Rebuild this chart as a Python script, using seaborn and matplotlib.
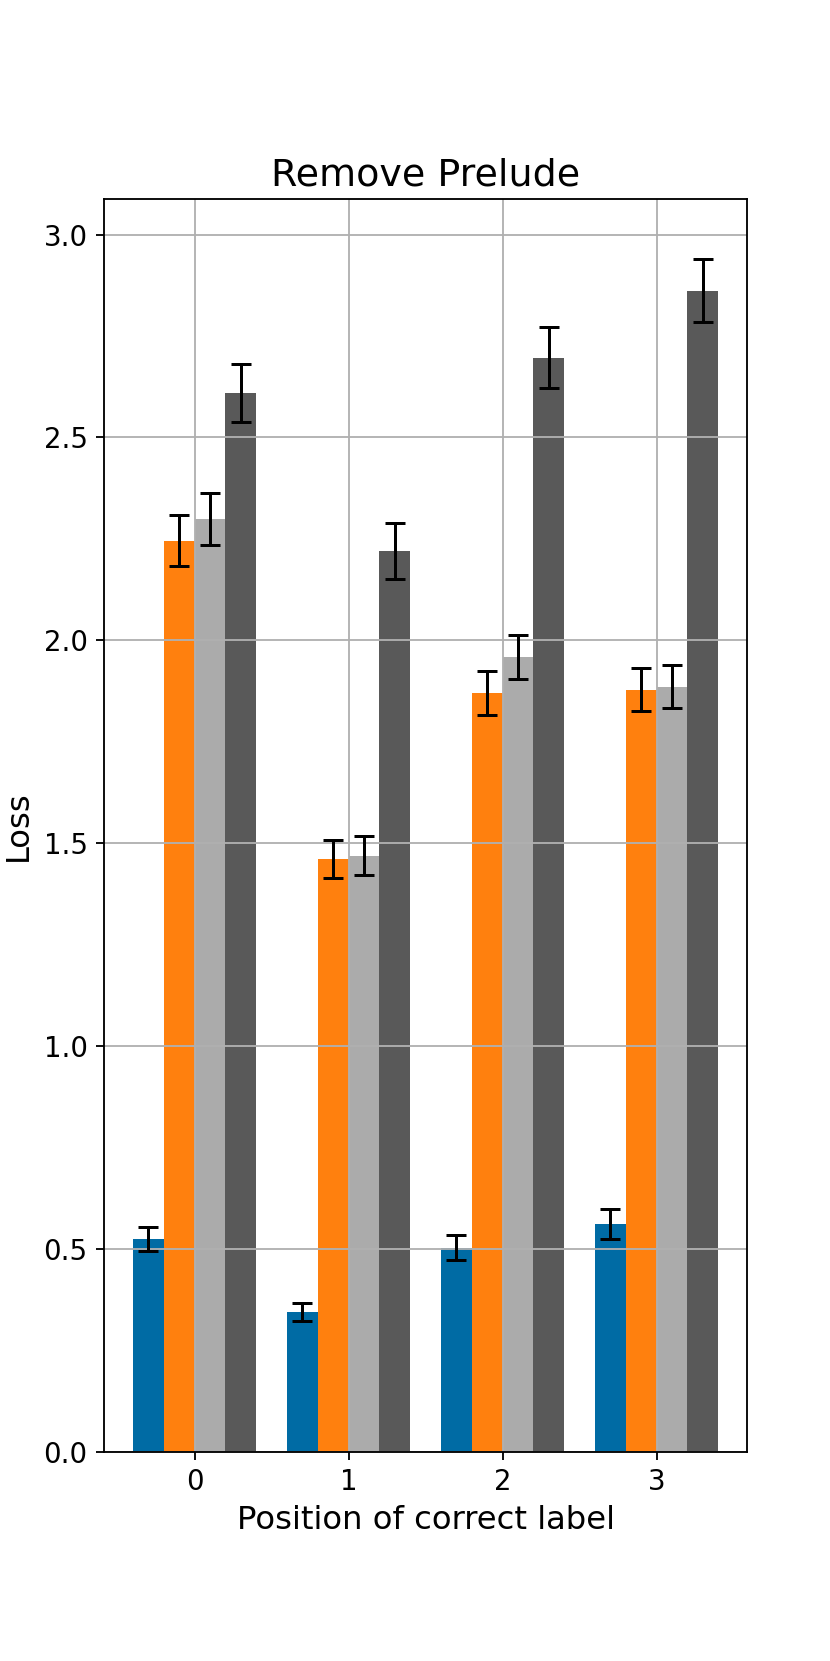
import pandas as pd
import seaborn as sns
import matplotlib.pyplot as plt

# values
positions = ['0', '1', '2', '3']
series_names = ['A', 'B', 'C', 'D']
loss_a = [0.524, 0.344, 0.503, 0.561]
loss_b = [2.246, 1.461, 1.870, 1.878]
loss_c = [2.298, 1.469, 1.959, 1.886]
loss_d = [2.609, 2.220, 2.697, 2.862]
err_a = [0.030, 0.023, 0.030, 0.037]
err_b = [0.063, 0.047, 0.055, 0.053]
err_c = [0.064, 0.048, 0.054, 0.054]
err_d = [0.072, 0.070, 0.076, 0.078]

colors = ['#006BA4', '#FF800E', '#ABABAB', '#595959']

rows = []
for name, vals, errs in zip(series_names,
                            [loss_a, loss_b, loss_c, loss_d],
                            [err_a, err_b, err_c, err_d]):
    for pos, v, e in zip(positions, vals, errs):
        rows.append({'position': pos, 'series': name, 'loss': v, 'err': e})
data = pd.DataFrame(rows)

plt.rcParams['font.family'] = 'DejaVu Sans'
fig, ax = plt.subplots(figsize=(5, 10), dpi=166.1)
fig.subplots_adjust(left=0.125, right=0.9, top=0.88, bottom=0.126)

sns.barplot(data=data, x='position', y='loss', hue='series',
            order=positions, hue_order=series_names, palette=colors,
            saturation=1, errorbar=None, linewidth=0, legend=False, ax=ax)

# error bars at the centre of each bar (seaborn draws bars hue by hue)
for i, name in enumerate(series_names):
    sub = data[data['series'] == name].set_index('position').loc[positions]
    bars = ax.containers[i]
    xs = [b.get_x() + b.get_width() / 2 for b in bars]
    ax.errorbar(xs, sub['loss'], yerr=sub['err'], fmt='none',
                ecolor='black', elinewidth=1.3, capsize=4.5, capthick=1.3)

ax.autoscale(axis='x')
ax.margins(x=0.05)
ax.grid(True, color='#b0b0b0', linewidth=0.8)

ax.set_title('Remove Prelude', fontsize=16.5)
ax.set_xlabel('Position of correct label', fontsize=14)
ax.set_ylabel('Loss', fontsize=14)
ax.tick_params(labelsize=12)

plt.savefig('out.png', dpi=166.1)
